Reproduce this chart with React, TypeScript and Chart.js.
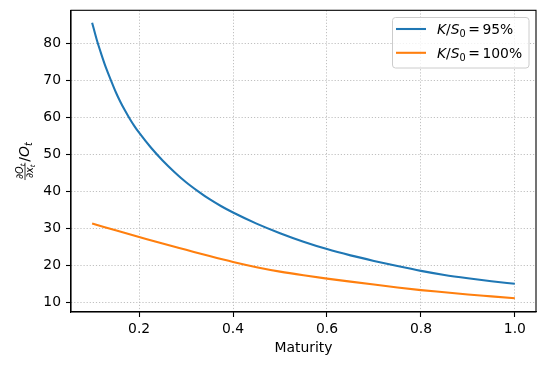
import React, { useEffect, useRef } from 'react';
import { Chart, registerables } from 'chart.js';

Chart.register(...registerables);

// ---- data ----
const maturity95 = [0.1, 0.11, 0.12, 0.13, 0.14, 0.15, 0.16, 0.17, 0.18, 0.19, 0.2, 0.225, 0.25, 0.275, 0.3, 0.325, 0.35, 0.375, 0.4, 0.45, 0.5, 0.55, 0.6, 0.65, 0.7, 0.75, 0.8, 0.85, 0.9, 0.95, 1.0];
const sens95 = [85.7, 81.0, 77.0, 73.3, 70.1, 67.0, 64.3, 61.9, 59.7, 57.7, 55.9, 51.9, 48.4, 45.3, 42.5, 40.1, 37.9, 36.0, 34.3, 31.3, 28.7, 26.4, 24.4, 22.7, 21.2, 19.8, 18.5, 17.4, 16.5, 15.7, 15.0];
const maturity100 = [0.1, 0.15, 0.2, 0.25, 0.3, 0.35, 0.4, 0.45, 0.5, 0.55, 0.6, 0.65, 0.7, 0.75, 0.8, 0.85, 0.9, 0.95, 1.0];
const sens100 = [31.3, 29.5, 27.7, 25.9, 24.2, 22.5, 20.9, 19.5, 18.3, 17.3, 16.4, 15.6, 14.8, 14.0, 13.3, 12.7, 12.1, 11.6, 11.1];
const xTicks = [0.2, 0.4, 0.6, 0.8, 1.0];
const yTicks = [10, 20, 30, 40, 50, 60, 70, 80];
const strikeLabels = ['95%', '100%'];
const seriesColors = ['#1f77b4', '#ff7f0e'];
const xTitle = 'Maturity';

const FAMILY = "'DejaVu Sans'";
const FS = 13.9;

type Run = { t: string; s: number; it?: boolean; dy?: number; gap?: number };

function font(r: Run) {
  return `${r.it ? 'italic ' : ''}${r.s}px ${FAMILY}`;
}
function measureRuns(ctx: CanvasRenderingContext2D, runs: Run[]) {
  let w = 0;
  for (const r of runs) {
    ctx.font = font(r);
    w += ctx.measureText(r.t).width + (r.gap || 0) * 2;
  }
  return w;
}
function drawRuns(ctx: CanvasRenderingContext2D, runs: Run[], x: number, y: number) {
  for (const r of runs) {
    ctx.font = font(r);
    x += r.gap || 0;
    ctx.fillText(r.t, x, y + (r.dy || 0));
    x += ctx.measureText(r.t).width + (r.gap || 0);
  }
  return x;
}

const decorPlugin = {
  id: 'decor',
  afterDatasetsDraw(chart: any) {
    const ctx: CanvasRenderingContext2D = chart.ctx;
    const a = chart.chartArea;
    ctx.save();
    // spines
    ctx.strokeStyle = '#000';
    ctx.lineWidth = 1.1;
    ctx.strokeRect(a.left, a.top, a.right - a.left, a.bottom - a.top);

    // legend
    const bx = 392.5, by = 17.5, bw = 136.5, bh = 50.5, rad = 3;
    ctx.beginPath();
    ctx.moveTo(bx + rad, by);
    ctx.arcTo(bx + bw, by, bx + bw, by + bh, rad);
    ctx.arcTo(bx + bw, by + bh, bx, by + bh, rad);
    ctx.arcTo(bx, by + bh, bx, by, rad);
    ctx.arcTo(bx, by, bx + bw, by, rad);
    ctx.closePath();
    ctx.fillStyle = 'rgba(255,255,255,0.8)';
    ctx.fill();
    ctx.strokeStyle = '#cccccc';
    ctx.lineWidth = 1;
    ctx.stroke();

    const rows = [29, 52.8];
    chart.data.datasets.forEach((ds: any, i: number) => {
      const ry = rows[i];
      ctx.strokeStyle = ds.borderColor;
      ctx.lineWidth = 2.08;
      ctx.beginPath();
      ctx.moveTo(396, ry);
      ctx.lineTo(426, ry);
      ctx.stroke();
      ctx.fillStyle = '#000';
      ctx.textBaseline = 'alphabetic';
      ctx.textAlign = 'left';
      drawRuns(ctx, [
        { t: 'K', s: FS, it: true },
        { t: '/', s: FS },
        { t: 'S', s: FS, it: true },
        { t: '0', s: FS * 0.7, dy: FS * 0.2 },
        { t: '=', s: FS, gap: 2.5 },
        { t: strikeLabels[i], s: FS },
      ], 437, ry + 5);
    });
    ctx.restore();
  },
  afterDraw(chart: any) {
    const ctx: CanvasRenderingContext2D = chart.ctx;
    const a = chart.chartArea;
    ctx.save();
    ctx.fillStyle = '#000';
    ctx.textBaseline = 'alphabetic';
    ctx.textAlign = 'left';
    const cx = 25;
    const cy = (a.top + a.bottom) / 2;
    ctx.translate(cx, cy);
    ctx.rotate(-Math.PI / 2);
    const fs = FS * 0.7;
    const num: Run[] = [
      { t: '∂', s: fs },
      { t: 'O', s: fs, it: true },
      { t: 't', s: fs * 0.7, it: true, dy: fs * 0.2 },
    ];
    const den: Run[] = [
      { t: '∂', s: fs },
      { t: 'x', s: fs, it: true },
      { t: 't', s: fs * 0.7, it: true, dy: fs * 0.2 },
    ];
    const tail: Run[] = [
      { t: '/', s: FS },
      { t: 'O', s: FS, it: true },
      { t: 't', s: FS * 0.7, it: true, dy: FS * 0.2 },
    ];
    const nw = measureRuns(ctx, num);
    const dw = measureRuns(ctx, den);
    const tw = measureRuns(ctx, tail);
    const fw = Math.max(nw, dw) + 2;
    const total = fw + 1 + tw;
    const x0 = -total / 2;
    ctx.fillRect(x0, -0.4, fw, 0.8);
    drawRuns(ctx, num, x0 + (fw - nw) / 2, -1.8);
    drawRuns(ctx, den, x0 + (fw - dw) / 2, 8.2);
    drawRuns(ctx, tail, x0 + fw + 1, 4);
    ctx.restore();
  },
};

export default function App() {
  const ref = useRef<HTMLCanvasElement | null>(null);
  useEffect(() => {
    if (!ref.current) return;
    const tickFont = { family: FAMILY, size: FS };
    const chart = new Chart(ref.current, {
      type: 'line',
      data: {
        datasets: [
          {
            label: `K/S₀ = ${strikeLabels[0]}`,
            data: maturity95.map((x, i) => ({ x, y: sens95[i] })),
            borderColor: seriesColors[0],
            backgroundColor: seriesColors[0],
            borderWidth: 2.08,
            pointRadius: 0,
            cubicInterpolationMode: 'monotone',
            fill: false,
          },
          {
            label: `K/S₀ = ${strikeLabels[1]}`,
            data: maturity100.map((x, i) => ({ x, y: sens100[i] })),
            borderColor: seriesColors[1],
            backgroundColor: seriesColors[1],
            borderWidth: 2.08,
            pointRadius: 0,
            cubicInterpolationMode: 'monotone',
            fill: false,
          },
        ],
      },
      options: {
        responsive: false,
        animation: false,
        devicePixelRatio: 1,
        layout: { padding: { top: 10.3, right: 9, left: 0, bottom: 0 } },
        plugins: { legend: { display: false }, tooltip: { enabled: false }, title: { display: false } },
        scales: {
          x: {
            type: 'linear',
            min: 0.055,
            max: 1.045,
            afterBuildTicks: (s: any) => { s.ticks = xTicks.map((v) => ({ value: v })); },
            afterFit: (s: any) => { s.height = 53; s.paddingLeft = 0; s.paddingRight = 0; },
            ticks: {
              color: '#000', font: tickFont, padding: 4, maxRotation: 0, autoSkip: false,
              callback: (v: any) => Number(v).toFixed(1),
            },
            grid: { color: '#b0b0b0', lineWidth: 0.8, tickColor: '#000', tickLength: 5, tickWidth: 1.1, tickBorderDash: [] },
            border: { display: true, color: '#000', width: 1.1, dash: [1.2, 1.9] },
            title: { display: true, text: xTitle, color: '#000', font: tickFont, padding: { top: 0, bottom: 8 } },
          },
          y: {
            type: 'linear',
            min: 7.37,
            max: 89.05,
            afterBuildTicks: (s: any) => { s.ticks = yTicks.map((v) => ({ value: v })); },
            afterFit: (s: any) => { s.width = 71; s.paddingTop = 0; s.paddingBottom = 0; },
            ticks: { color: '#000', font: tickFont, padding: 5, callback: (v: any) => String(v) },
            grid: { color: '#b0b0b0', lineWidth: 0.8, tickColor: '#000', tickLength: 5, tickWidth: 1.1, tickBorderDash: [] },
            border: { display: true, color: '#000', width: 1.1, dash: [1.2, 1.9] },
          },
        },
      },
      plugins: [decorPlugin],
    } as any);
    return () => chart.destroy();
  }, []);
  return (
    <div style={{ position: 'fixed', left: 0, top: 0, width: 545, height: 365, background: '#fff' }}>
      <canvas ref={ref} width={545} height={365} style={{ width: 545, height: 365 }} />
    </div>
  );
}
